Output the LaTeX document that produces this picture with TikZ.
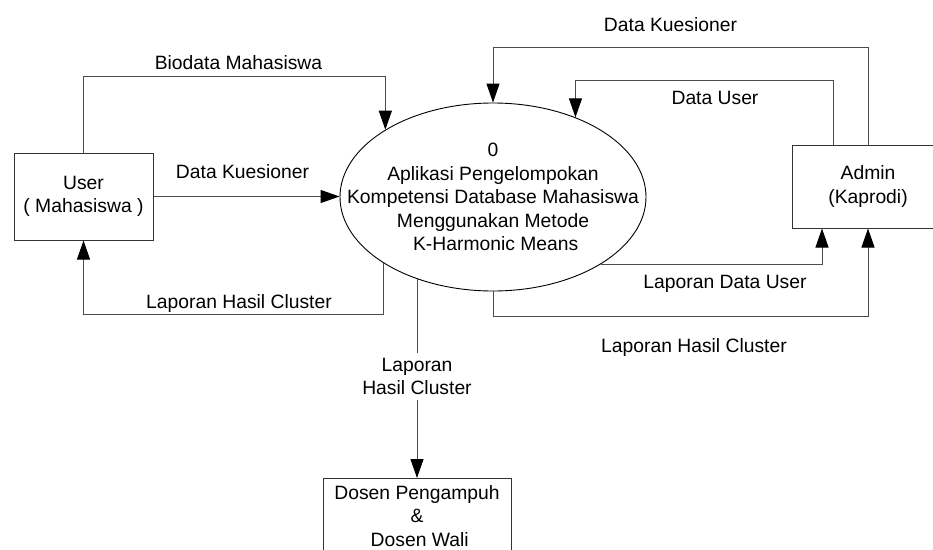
\documentclass[tikz,border=0pt]{standalone}
\usepackage{fontspec}
\setmainfont{Liberation Sans}
\usetikzlibrary{arrows.meta,shapes.geometric}

\begin{document}
\begin{tikzpicture}[x=1pt,y=-1pt,
  every node/.style={font=\fontsize{19.3}{23.5}\selectfont},
  entity/.style={draw=black!80, line width=1pt, align=center, inner sep=0pt},
  process/.style={draw=black, line width=0.9pt, ellipse, minimum width=306pt,
    minimum height=188pt, inner sep=0pt},
  flow/.style={draw=black!70, line width=1pt,
    -{Triangle[length=19pt,width=13pt,color=black]}},
  flowlabel/.style={anchor=base, inner sep=0pt},
  midlabel/.style={fill=white, align=center, inner sep=5pt},
]
\useasboundingbox (0,0) rectangle (933,549);
\clip (0,0) rectangle (933,549);
\fill[white] (0,0) rectangle (933,549);

% external entities and the process
\node[entity, minimum width=139pt, minimum height=87pt] (user) at (83.5,196.5)
  {User\\( Mahasiswa )};
\node[entity, minimum width=152pt, minimum height=83pt] (admin) at (868,186.5)
  {Admin\\(Kaprodi)};
\node[entity, minimum width=188pt, minimum height=75pt, anchor=north] (dosen)
  at (417,478) {Dosen Pengampuh\\\&\\\hspace*{0.28em}Dosen Wali};
\node[process] (proc) at (493,197) {};
\node[align=center, inner sep=0pt] (proctext) at (493,197) {0\\Aplikasi Pengelompokan\\Kompetensi Database Mahasiswa\\Menggunakan Metode\\\hspace*{0.28em}K-Harmonic Means};

% data flows between user and process
\draw[flow] (user.north) -- ++(0,-76) -| (proc.148.2);
\draw[flow] (user.east) -- (user.east -| proc.west);
\draw[flow] (proc.211.8) -- ++(0,52) -| (user.south);

% data flows between admin and process
\draw[flow] (admin.north) -- ++(0,-97) -| (proc.north);
\draw[flow] ([xshift=-35pt]admin.north) -- ++(0,-64) -| (proc.44.6);
\draw[flow] (proc.328.8) -| ([xshift=-46pt]admin.south);
\draw[flow] (proc.south) -- ++(0,25) -| (admin.south);

% report to the lecturers
\draw[flow] (dosen.north |- proc.227.2) -- (dosen.north);
\node[midlabel] (lapdosen) at (417,376.5) {Laporan\\Hasil Cluster};

% flow labels
\node[flowlabel] (lbio) at (238.5,69) {Biodata Mahasiswa};
\node[flowlabel] (lkuesu) at (242.5,178) {Data Kuesioner};
\node[flowlabel] (lhasu) at (239,308) {Laporan Hasil Cluster};
\node[flowlabel] (lkuesa) at (670.5,31) {Data Kuesioner};
\node[flowlabel] (luser) at (715,104) {Data User};
\node[flowlabel] (llapuser) at (725,288) {Laporan Data User};
\node[flowlabel] (lhasa) at (694,352) {Laporan Hasil Cluster};
\end{tikzpicture}
\end{document}
